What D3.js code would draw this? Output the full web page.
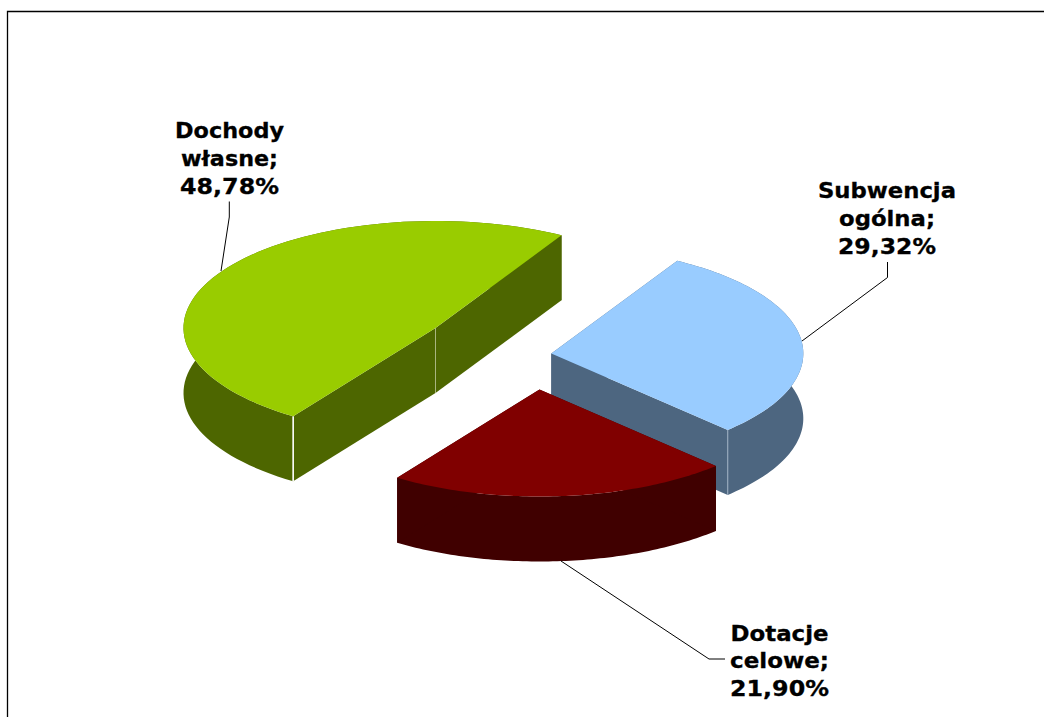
<!DOCTYPE html>
<html>
<head>
<meta charset="utf-8">
<script src="https://cdn.jsdelivr.net/npm/d3@7"></script>
<style>
  html, body { margin: 0; padding: 0; background: #fff; overflow: hidden; }
  text { font-family: "DejaVu Sans", sans-serif; font-weight: bold; font-size: 22px; fill: #000; stroke: #000; stroke-width: 0.3px; }
</style>
</head>
<body>
<div id="chart"></div>
<script>
// Data
const categories = ['Subwencja ogólna', 'Dotacje celowe', 'Dochody własne'];
const shares = [29.32, 21.9, 48.78];
const labelLines = [
  ['Subwencja', 'ogólna;', '29,32%'],
  ['Dotacje', 'celowe;', '21,90%'],
  ['Dochody', 'własne;', '48,78%'],
];
const topColors = ['#99ccff', '#800000', '#99cc00'];
const sideColors = ['#4d6680', '#400000', '#4d6600'];

// Layout
const width = 1044;
const height = 717;
const rx = 252;
const ry = 107;
const depth = 65;
const firstAngle = Math.PI / 6;
// where each exploded slice has its tip
const tips = [[551.3, 353.5], [539.5, 389.5], [435.5, 328]];
const labelPos = [[887, 198], [779.5, 640.5], [229.5, 138]];
const lineGap = 27.8;
// the wanted width of each label line, the installed font runs narrower
const lineWidths = [[138, 96, 98], [98, 99, 99], [109, 97, 99]];
const leaders = [
  [[802, 341], [887.5, 277.5], [887.5, 262]],
  [[561, 561], [709, 659], [725, 659]],
  [[221, 271], [229.3, 217], [229.3, 201.5]],
];
// draw order: back slice first
const drawOrder = [2, 0, 1];

const svg = d3
  .select('#chart')
  .append('svg')
  .attr('width', width)
  .attr('height', height)
  .attr('viewBox', `0 0 ${width} ${height}`);

// Chart frame, runs off the right and bottom of the page
svg
  .append('path')
  .attr('d', `M7.5 ${height + 5}V11.5H${width + 5}`)
  .attr('fill', 'none')
  .attr('stroke', '#000')
  .attr('stroke-width', 1.3);

const slices = d3
  .pie()
  .sort(null)
  .startAngle(firstAngle)
  .endAngle(firstAngle + 2 * Math.PI)(shares);

const xScale = d3.scaleLinear().domain([-1, 1]).range([-rx, rx]);
const yScale = d3.scaleLinear().domain([-1, 1]).range([ry, -ry]);

// flat circle -> tilted ellipse, angle as in d3.arc (0 = up, clockwise)
const project = (a) => [xScale(Math.sin(a)), yScale(Math.cos(a))];
const rimPoints = (d) =>
  d3.range(0, 81).map((i) => project(d.startAngle + ((d.endAngle - d.startAngle) * i) / 80));

const line = d3.line();
const down = (pts) => pts.map((p) => [p[0], p[1] + depth]);
const wall = (pts) => line(pts.concat(down(pts).reverse())) + 'Z';

const groups = svg
  .selectAll('g.slice')
  .data(drawOrder.map((i) => ({ ...slices[i], i })))
  .join('g')
  .attr('class', 'slice')
  .attr('transform', (d) => `translate(${tips[d.i][0]}, ${tips[d.i][1]})`);

// Outer wall
groups
  .append('path')
  .attr('d', (d) => wall(rimPoints(d)))
  .attr('fill', (d) => sideColors[d.i]);

// Cut faces
groups
  .append('path')
  .attr('d', (d) => wall([[0, 0], project(d.startAngle)]))
  .attr('fill', (d) => sideColors[d.i]);
groups
  .append('path')
  .attr('d', (d) => wall([[0, 0], project(d.endAngle)]))
  .attr('fill', (d) => sideColors[d.i]);

// Light seams between the wall segments
const seams = [
  { slice: 0, color: '#9fb0c4', width: 1, at: (d) => project(d.endAngle) },
  { slice: 2, color: '#a9b57f', width: 1, at: () => [0, 0] },
  { slice: 2, color: '#ffffff', width: 1.6, at: (d) => project(d.startAngle) },
];
groups.each(function (d) {
  seams
    .filter((s) => s.slice === d.i)
    .forEach((s) => {
      const p = s.at(d);
      d3.select(this)
        .append('path')
        .attr('d', line([p, [p[0], p[1] + depth]]))
        .attr('stroke', s.color)
        .attr('stroke-width', s.width);
    });
});

// Top face
groups
  .append('path')
  .attr('d', (d) => line([[0, 0], ...rimPoints(d)]) + 'Z')
  .attr('fill', (d) => topColors[d.i]);

// Leader lines
svg
  .selectAll('path.leader')
  .data(leaders)
  .join('path')
  .attr('class', 'leader')
  .attr('d', (d) => line(d))
  .attr('fill', 'none')
  .attr('stroke', '#000')
  .attr('stroke-width', 1);

// Labels, one text per line
const labels = svg
  .selectAll('g.label')
  .data(categories)
  .join('g')
  .attr('class', 'label')
  .attr('transform', (d, i) => `translate(${labelPos[i][0]}, ${labelPos[i][1]})`);
labels
  .selectAll('text')
  .data((d, i) => labelLines[i].map((t, j) => ({ t, w: lineWidths[i][j] })))
  .join('text')
  .attr('text-anchor', 'middle')
  .attr('y', (d, j) => j * lineGap)
  .attr('textLength', (d) => d.w)
  .attr('lengthAdjust', 'spacingAndGlyphs')
  .text((d) => d.t);
</script>
</body>
</html>
